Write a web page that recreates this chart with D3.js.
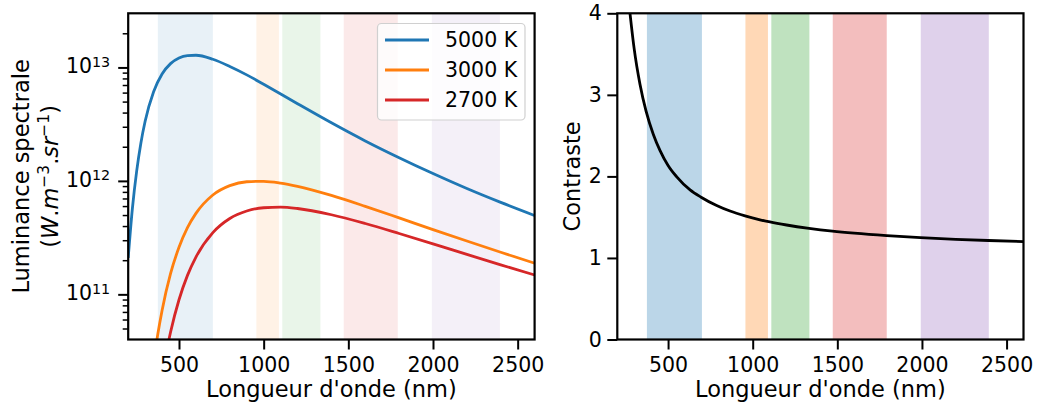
<!DOCTYPE html>
<html>
<head>
<meta charset="utf-8">
<script src="https://cdn.jsdelivr.net/npm/d3@7"></script>
<style>
  body { margin: 0; background: #fff; }
  svg { display: block; font-family: "DejaVu Sans", sans-serif; }
</style>
</head>
<body>
<svg id="chart" width="1039" height="405"></svg>
<script>
// ---------- data ----------
const wl5000 = [200,225,250,275,300,350,400,450,500,550,600,700,800,900,1000,1200,1400,1600,1800,2000,2200,2400,2600];
const lum5000 = [2.10e11,5.77e11,1.22e12,2.16e12,3.35e12,6.10e12,8.74e12,1.08e13,1.21e13,1.27e13,1.28e13,1.18e13,1.02e13,8.60e12,7.10e12,4.79e12,3.25e12,2.25e12,1.60e12,1.16e12,8.56e11,6.46e11,4.95e11];

const wl3000 = [350,375,400,450,500,550,600,700,800,900,1000,1100,1200,1400,1600,1800,2000,2200,2400,2600];
const lum3000 = [2.54e10,4.48e10,7.22e10,1.52e11,2.60e11,3.87e11,5.17e11,7.51e11,9.08e11,9.83e11,9.92e11,9.57e11,8.96e11,7.45e11,5.97e11,4.72e11,3.72e11,2.95e11,2.35e11,1.88e11];

const wl2700 = [400,425,450,500,550,600,700,800,900,1000,1100,1200,1400,1600,1800,2000,2200,2400,2600];
const lum2700 = [1.91e10,3.08e10,4.64e10,8.96e10,1.47e11,2.13e11,3.50e11,4.66e11,5.43e11,5.80e11,5.87e11,5.71e11,5.03e11,4.21e11,3.44e11,2.79e11,2.25e11,1.82e11,1.48e11];

const wlContrast = [275,300,334,370,413,452,500,550,630,695,787,866,955,1043,1102,1200,1333,1471,1600,1792,1991,2200,2393,2600];
const contrast   = [4.00,3.56,3.13,2.80,2.515,2.32,2.135,1.998,1.835,1.745,1.643,1.575,1.516,1.468,1.441,1.404,1.363,1.329,1.304,1.274,1.249,1.229,1.214,1.200];

const seriesNames  = ["5000 K","3000 K","2700 K"];
const seriesColors = ["#1f77b4","#ff7f0e","#d62728"];

const bandStart  = [375, 957, 1110, 1473, 1993];
const bandEnd    = [700, 1090, 1335, 1792, 2395];
const bandColors = ["#1f77b4","#ff7f0e","#2ca02c","#d62728","#9467bd"];

const xTicks = [500,1000,1500,2000,2500];
const yTicksLog = [1e11,1e12,1e13];
const yTickLogLabels = ["11","12","13"]; // exponents for 1e11,1e12,1e13
const yMinorLog = [5e10,6e10,7e10,8e10,9e10,2e11,3e11,4e11,5e11,6e11,7e11,8e11,9e11,2e12,3e12,4e12,5e12,6e12,7e12,8e12,9e12,2e13];
const yTicksContrast = [0,1,2,3,4];

// ---------- layout ----------
const svg = d3.select("#chart");
const L = {x0:128.2, x1:534.6, y0:13.3, y1:339.5};
const R = {x0:617.3, x1:1023.5, y0:13.3, y1:339.5};
const tickFont = 20.5, labelFont = 22.5;

const xL = d3.scaleLinear([200,2600],[L.x0,L.x1]);
const yL = d3.scaleLog([4e10,3e13],[L.y1,L.y0]);
const xR = d3.scaleLinear([200,2600],[R.x0,R.x1]);
const yR = d3.scaleLinear([0,4],[R.y1,R.y0]);

const defs = svg.append("defs");
defs.append("clipPath").attr("id","clipL").append("rect")
  .attr("x",L.x0).attr("y",L.y0).attr("width",L.x1-L.x0).attr("height",L.y1-L.y0);
defs.append("clipPath").attr("id","clipR").append("rect")
  .attr("x",R.x0).attr("y",R.y0).attr("width",R.x1-R.x0).attr("height",R.y1-R.y0);

// ---------- left panel ----------
const gL = svg.append("g");
gL.append("g").selectAll("rect").data(bandStart).join("rect")
  .attr("x",(d)=>xL(d)).attr("y",L.y0)
  .attr("width",(d,i)=>xL(bandEnd[i])-xL(d)).attr("height",L.y1-L.y0)
  .attr("fill",(d,i)=>bandColors[i]).attr("fill-opacity",0.1);

const lineL = d3.line().x(d=>xL(d[0])).y(d=>yL(d[1])).curve(d3.curveMonotoneX);
const seriesData = [
  d3.zip(wl5000,lum5000),
  d3.zip(wl3000,lum3000),
  d3.zip(wl2700,lum2700)
];
gL.append("g").attr("clip-path","url(#clipL)").selectAll("path").data(seriesData).join("path")
  .attr("d",lineL).attr("fill","none")
  .attr("stroke",(d,i)=>seriesColors[i]).attr("stroke-width",2.8);

// x axis left
gL.append("g").attr("transform",`translate(0,${L.y1})`)
  .call(d3.axisBottom(xL).tickValues(xTicks).tickSize(10).tickPadding(8.2).tickFormat(d3.format("d")));
// y axis left (major + minor)
gL.append("g").attr("transform",`translate(${L.x0},0)`)
  .call(d3.axisLeft(yL).tickValues(yTicksLog).tickSize(10).tickFormat(""));
const axYLm = gL.append("g").attr("transform",`translate(${L.x0},0)`)
  .call(d3.axisLeft(yL).tickValues(yMinorLog).tickSize(5.5).tickFormat(""));
axYLm.selectAll("line").attr("stroke-width",1.5);

// log tick labels with superscripts
const yLab = gL.append("g").attr("font-size",tickFont).attr("text-anchor","end");
yTicksLog.forEach((v,i)=>{
  const t = yLab.append("text").attr("x",L.x0-18).attr("y",yL(v)+6);
  t.append("tspan").text("10");
  t.append("tspan").attr("font-size",14.3).attr("dy",-6.5).text(yTickLogLabels[i]);
});

// legend
const lg = gL.append("g");
lg.append("rect").attr("x",377.5).attr("y",23.5).attr("width",147.5).attr("height",96.5)
  .attr("rx",4).attr("fill","#fff").attr("fill-opacity",0.8)
  .attr("stroke","#d0d0d0").attr("stroke-width",1.2);
seriesNames.forEach((n,i)=>{
  const yy = 40 + i*30;
  lg.append("line").attr("x1",385).attr("x2",429).attr("y1",yy).attr("y2",yy)
    .attr("stroke",seriesColors[i]).attr("stroke-width",2.8);
  lg.append("text").attr("x",445).attr("y",yy+7.4).attr("font-size",tickFont).text(n);
});

// spines
gL.append("rect").attr("x",L.x0).attr("y",L.y0).attr("width",L.x1-L.x0).attr("height",L.y1-L.y0)
  .attr("fill","none").attr("stroke","#000").attr("stroke-width",2.2);

// labels
gL.append("text").attr("x",(L.x0+L.x1)/2).attr("y",397).attr("text-anchor","middle")
  .attr("font-size",labelFont).text("Longueur d'onde (nm)");
const yl1 = gL.append("g").attr("transform",`translate(29,${(L.y0+L.y1)/2}) rotate(-90)`);
yl1.append("text").attr("text-anchor","middle").attr("font-size",labelFont).text("Luminance spectrale");
const yl2 = gL.append("g").attr("transform",`translate(58,${(L.y0+L.y1)/2}) rotate(-90)`);
const t2 = yl2.append("text").attr("text-anchor","middle").attr("font-size",labelFont);
t2.append("tspan").text("(");
t2.append("tspan").attr("font-style","italic").text("W");
t2.append("tspan").text(".");
t2.append("tspan").attr("font-style","italic").text("m");
t2.append("tspan").attr("font-size",15.5).attr("dy",-9).text("\u22123");
t2.append("tspan").attr("dy",9).text(".");
t2.append("tspan").attr("font-style","italic").text("sr");
t2.append("tspan").attr("font-size",15.5).attr("dy",-9).text("\u22121");
t2.append("tspan").attr("dy",9).text(")");

// ---------- right panel ----------
const gR = svg.append("g");
gR.append("g").selectAll("rect").data(bandStart).join("rect")
  .attr("x",(d)=>xR(d)).attr("y",R.y0)
  .attr("width",(d,i)=>xR(bandEnd[i])-xR(d)).attr("height",R.y1-R.y0)
  .attr("fill",(d,i)=>bandColors[i]).attr("fill-opacity",0.3);

const lineR = d3.line().x(d=>xR(d[0])).y(d=>yR(d[1])).curve(d3.curveMonotoneX);
gR.append("path").attr("clip-path","url(#clipR)").datum(d3.zip(wlContrast,contrast))
  .attr("d",lineR).attr("fill","none").attr("stroke","#000").attr("stroke-width",2.8);

gR.append("g").attr("transform",`translate(0,${R.y1})`)
  .call(d3.axisBottom(xR).tickValues(xTicks).tickSize(10).tickPadding(8.2).tickFormat(d3.format("d")));
gR.append("g").attr("transform",`translate(${R.x0},0)`)
  .call(d3.axisLeft(yR).tickValues(yTicksContrast).tickSize(10).tickPadding(5.5).tickFormat(d3.format("d")));

gR.append("rect").attr("x",R.x0).attr("y",R.y0).attr("width",R.x1-R.x0).attr("height",R.y1-R.y0)
  .attr("fill","none").attr("stroke","#000").attr("stroke-width",2.2);

gR.append("text").attr("x",(R.x0+R.x1)/2).attr("y",397).attr("text-anchor","middle")
  .attr("font-size",labelFont).text("Longueur d'onde (nm)");
gR.append("g").attr("transform",`translate(580,${(R.y0+R.y1)/2}) rotate(-90)`)
  .append("text").attr("text-anchor","middle").attr("font-size",labelFont).text("Contraste");

// ---------- axis styling ----------
svg.selectAll(".domain").remove();
svg.selectAll(".tick line").filter(function(){ return d3.select(this).attr("stroke-width")===null; })
  .attr("stroke","#000").attr("stroke-width",2);
svg.selectAll(".tick text").attr("font-size",tickFont).attr("font-family","DejaVu Sans, sans-serif").attr("fill","#000");
</script>
</body>
</html>
